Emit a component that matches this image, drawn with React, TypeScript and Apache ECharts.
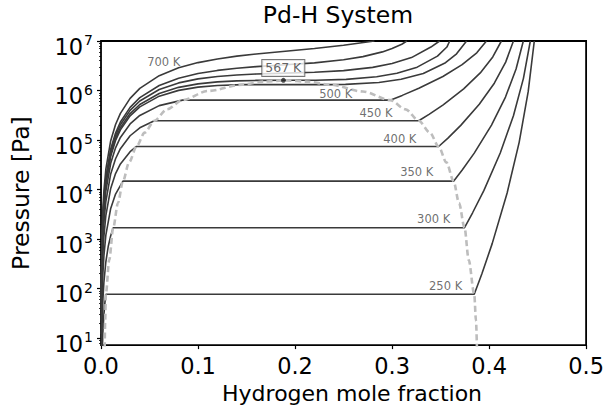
import React, { useEffect, useRef } from "react";
import * as echarts from "echarts";

const FONT = "DejaVu Sans, Verdana, sans-serif";

// x = hydrogen mole fraction, y = log10(pressure / Pa)
const T250 = [[0.001, 0.562], [0.002, 1.146], [0.003, 1.48], [0.004, 1.711], [0.005, 1.886], [0.3847, 1.886], [0.3925, 2.295], [0.4032, 2.909], [0.4186, 3.932], [0.431, 4.954], [0.4403, 5.977], [0.4466, 7.0]];
const T300 = [[0.0003, 0.168], [0.001, 1.204], [0.002, 1.79], [0.003, 2.128], [0.005, 2.542], [0.0075, 2.856], [0.01, 3.069], [0.0126, 3.23], [0.3747, 3.23], [0.383, 3.532], [0.3947, 3.984], [0.4115, 4.738], [0.4251, 5.492], [0.4354, 6.246], [0.4425, 7.0]];
const T350 = [[0.0003, 0.694], [0.001, 1.731], [0.002, 2.32], [0.003, 2.661], [0.005, 3.079], [0.01, 3.619], [0.015, 3.909], [0.0226, 4.17], [0.3634, 4.17], [0.3723, 4.396], [0.3847, 4.736], [0.4025, 5.302], [0.4169, 5.868], [0.4278, 6.434], [0.4353, 7.0]];
const T400 = [[0.0003, 1.08], [0.001, 2.119], [0.002, 2.71], [0.003, 3.052], [0.005, 3.474], [0.01, 4.023], [0.015, 4.323], [0.02, 4.519], [0.03, 4.766], [0.0366, 4.87], [0.348, 4.87], [0.3576, 5.04], [0.3708, 5.296], [0.3899, 5.722], [0.4054, 6.148], [0.4171, 6.574], [0.4251, 7.0]];
const T450 = [[0.0003, 1.359], [0.001, 2.398], [0.002, 2.991], [0.003, 3.334], [0.005, 3.759], [0.01, 4.316], [0.015, 4.622], [0.02, 4.826], [0.03, 5.087], [0.04, 5.247], [0.055, 5.39], [0.3275, 5.39], [0.3381, 5.519], [0.3527, 5.712], [0.3738, 6.034], [0.3909, 6.356], [0.4038, 6.678], [0.4127, 7.0]];
const T500 = [[0.0003, 1.563], [0.001, 2.604], [0.002, 3.197], [0.003, 3.542], [0.005, 3.969], [0.01, 4.531], [0.015, 4.843], [0.02, 5.053], [0.03, 5.326], [0.04, 5.497], [0.06, 5.695], [0.084, 5.806], [0.298, 5.806], [0.3105, 5.902], [0.3276, 6.045], [0.3524, 6.284], [0.3722, 6.522], [0.3873, 6.761], [0.3973, 7.0]];
const T550 = [[0.0003, 1.697], [0.001, 2.739], [0.002, 3.333], [0.003, 3.679], [0.005, 4.108], [0.01, 4.675], [0.015, 4.992], [0.02, 5.206], [0.03, 5.488], [0.04, 5.669], [0.06, 5.886], [0.08, 6.003], [0.1, 6.069], [0.12, 6.103], [0.146, 6.12], [0.236, 6.12], [0.252, 6.124], [0.2864, 6.161], [0.3093, 6.227], [0.3322, 6.345], [0.3551, 6.561], [0.3665, 6.742], [0.3768, 7.0]];
const T567 = [[0.0003, 1.735], [0.001, 2.777], [0.002, 3.372], [0.003, 3.718], [0.005, 4.147], [0.01, 4.716], [0.015, 5.034], [0.02, 5.249], [0.03, 5.535], [0.04, 5.718], [0.06, 5.941], [0.08, 6.064], [0.1, 6.135], [0.12, 6.174], [0.14, 6.195], [0.16, 6.204], [0.19, 6.206], [0.2214, 6.209], [0.2527, 6.226], [0.2841, 6.278], [0.305, 6.349], [0.3259, 6.472], [0.3468, 6.694], [0.3565, 6.878], [0.3594, 7.0]];
const T600 = [[0.0003, 1.785], [0.001, 2.827], [0.002, 3.423], [0.003, 3.769], [0.005, 4.2], [0.01, 4.771], [0.015, 5.091], [0.02, 5.309], [0.03, 5.6], [0.04, 5.788], [0.06, 6.021], [0.08, 6.154], [0.1, 6.235], [0.12, 6.284], [0.14, 6.315], [0.16, 6.334], [0.19, 6.351], [0.22, 6.369], [0.25, 6.401], [0.28, 6.468], [0.3, 6.545], [0.32, 6.665], [0.34, 6.878], [0.349, 7.0]];
const T650 = [[0.0003, 1.827], [0.001, 2.869], [0.002, 3.465], [0.003, 3.812], [0.005, 4.244], [0.01, 4.818], [0.015, 5.142], [0.02, 5.364], [0.03, 5.661], [0.04, 5.856], [0.06, 6.102], [0.08, 6.248], [0.1, 6.343], [0.12, 6.406], [0.14, 6.45], [0.16, 6.482], [0.19, 6.52], [0.22, 6.558], [0.25, 6.62], [0.27, 6.685], [0.29, 6.78], [0.3, 6.848], [0.31, 6.935], [0.3152, 7.0]];
const T700 = [[0.0003, 1.991], [0.001, 3.034], [0.002, 3.63], [0.003, 3.978], [0.005, 4.411], [0.01, 4.988], [0.015, 5.315], [0.02, 5.539], [0.03, 5.842], [0.04, 6.043], [0.06, 6.3], [0.08, 6.458], [0.1, 6.564], [0.12, 6.638], [0.14, 6.694], [0.16, 6.737], [0.19, 6.792], [0.22, 6.847], [0.25, 6.914], [0.265, 6.955], [0.2818, 7.0]];

// two-phase boundary (dashed dome)
const DOME = [[0.0038, 0.8], [0.0043, 1.35], [0.005, 1.886], [0.0085, 2.58], [0.0126, 3.23], [0.0175, 3.73], [0.0226, 4.17], [0.029, 4.55], [0.0366, 4.87], [0.045, 5.15], [0.055, 5.39], [0.068, 5.62], [0.084, 5.806], [0.11, 5.99], [0.146, 6.12], [0.168, 6.18], [0.19, 6.206], [0.212, 6.18], [0.236, 6.12], [0.27, 5.98], [0.298, 5.806], [0.314, 5.62], [0.3275, 5.39], [0.339, 5.15], [0.348, 4.87], [0.356, 4.55], [0.3634, 4.17], [0.369, 3.73], [0.3747, 3.23], [0.379, 2.58], [0.3847, 1.886], [0.3865, 1.35], [0.3875, 0.8]];

const CRITICAL = [0.188, 6.206];

const LABEL_TEXT = ["700 K", "500 K", "450 K", "400 K", "350 K", "300 K", "250 K"];
const LABEL_X = [0.0647, 0.242, 0.2834, 0.308, 0.3255, 0.3429, 0.3552];
const LABEL_Y = [6.57, 5.92, 5.54, 5.02, 4.36, 3.4, 2.06];
const CRIT_LABEL = { text: "567 K", x: 0.1879, y: 6.456 };

const X_TICKS = [0, 0.1, 0.2, 0.3, 0.4, 0.5];
const Y_DECADES = [1, 2, 3, 4, 5, 6, 7];

const ISOTHERMS = [T250, T300, T350, T400, T450, T500, T550, T567, T600, T650, T700];

export default function App() {
  const ref = useRef<HTMLDivElement>(null);
  useEffect(() => {
    if (!ref.current) return;
    const chart = echarts.init(ref.current, null, { renderer: "svg" });
    const yMin = 0.86;
    const yMax = 7;
    const minor: number[] = [];
    for (let n = 0; n < 7; n++) {
      for (let k = 2; k <= 9; k++) {
        const v = n + Math.log10(k);
        if (v >= yMin && v <= yMax) minor.push(v);
      }
    }
    const lineColor = "#3a3a3a";
    const series: any[] = ISOTHERMS.map((d) => ({
      type: "line",
      data: d,
      symbol: "none",
      showSymbol: false,
      clip: true,
      lineStyle: { color: lineColor, width: 1.6 },
      z: 2,
    }));
    series.push({
      type: "line",
      data: DOME,
      symbol: "none",
      smooth: 0.3,
      smoothMonotone: "x",
      clip: true,
      lineStyle: { color: "#bdbdbd", width: 2.6, type: [6, 3.5] },
      z: 3,
    });
    series.push({
      type: "scatter",
      data: [CRITICAL],
      symbolSize: 5,
      itemStyle: { color: "#222" },
      z: 5,
    });
    series.push({
      type: "scatter",
      symbolSize: 0,
      z: 6,
      data: LABEL_TEXT.map((t, i) => ({ value: [LABEL_X[i], LABEL_Y[i]], name: t })),
      label: {
        show: true,
        position: "inside",
        formatter: (p: any) => p.name,
        fontFamily: FONT,
        fontSize: 11.5,
        color: "#4a4a4a",
      },
    });
    series.push({
      type: "scatter",
      symbolSize: 0,
      z: 7,
      data: [{ value: [CRIT_LABEL.x, CRIT_LABEL.y], name: CRIT_LABEL.text }],
      label: {
        show: true,
        position: "inside",
        formatter: (p: any) => p.name,
        fontFamily: FONT,
        fontSize: 12.5,
        color: "#3a3a3a",
        backgroundColor: "#fff",
        borderColor: "#555",
        borderWidth: 1,
        padding: [2, 3, 1, 3],
      },
    });

    chart.setOption({
      animation: false,
      backgroundColor: "#fff",
      grid: {
        left: 101,
        right: 19,
        top: 41,
        bottom: 61,
        show: true,
        borderColor: "#000",
        borderWidth: 1.8,
        backgroundColor: "transparent",
      },
      graphic: [
        {
          type: "text",
          x: 338,
          y: 3,
          style: {
            text: "Pd-H System",
            fontFamily: FONT,
            fontSize: 23.5,
            fill: "#000",
            textAlign: "center",
          },
        },
      ],
      xAxis: {
        type: "value",
        min: 0,
        max: 0.5,
        interval: 0.1,
        name: "Hydrogen mole fraction",
        nameLocation: "middle",
        nameGap: 23,
        nameTextStyle: { fontFamily: FONT, fontSize: 22, color: "#000", padding: [0, 0, 0, 17] },
        axisLine: { show: false },
        splitLine: { show: false },
        axisTick: { show: true, inside: false, length: 4, lineStyle: { color: "#000", width: 1.2 }, customValues: X_TICKS },
        axisLabel: {
          customValues: X_TICKS,
          formatter: (v: number) => v.toFixed(1),
          fontFamily: FONT,
          fontSize: 22.5,
          color: "#000",
          margin: 9,
        },
      },
      yAxis: [
        {
          type: "value",
          min: yMin,
          max: yMax,
          name: "Pressure [Pa]",
          nameLocation: "middle",
          nameRotate: 90,
          nameGap: 68,
          nameTextStyle: { fontFamily: FONT, fontSize: 23.5, color: "#000" },
          axisLine: { show: false },
          splitLine: { show: false },
          axisTick: { show: true, inside: false, length: 4, lineStyle: { color: "#000", width: 1.2 }, customValues: Y_DECADES },
          axisLabel: {
            customValues: Y_DECADES,
            margin: 8,
            formatter: (v: number) => `{b|10}{s|${Math.round(v)}}`,
            rich: {
              b: { fontFamily: FONT, fontSize: 22.5, color: "#000", lineHeight: 24, padding: [6, 0, 0, 0], verticalAlign: "top" },
              s: { fontFamily: FONT, fontSize: 14, color: "#000", lineHeight: 14, padding: [4, 0, 0, 1], verticalAlign: "top" },
            },
          },
        },
        {
          type: "value",
          min: yMin,
          max: yMax,
          position: "left",
          axisLine: { show: false },
          splitLine: { show: false },
          axisLabel: { show: false },
          axisTick: { show: true, inside: false, length: 2, lineStyle: { color: "#000", width: 0.8 }, customValues: minor },
        },
      ],
      series,
    });
    return () => chart.dispose();
  }, []);
  return <div ref={ref} style={{ position: "fixed", left: 0, top: 0, width: 607, height: 409 }} />;
}
